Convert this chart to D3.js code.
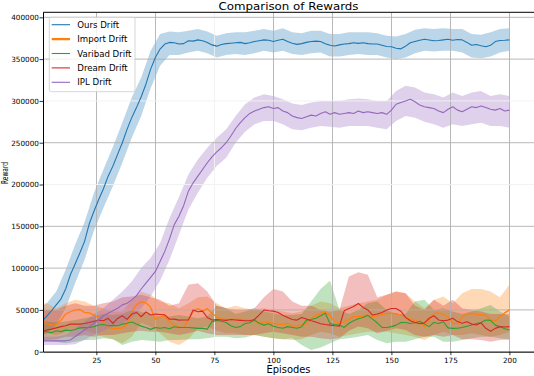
<!DOCTYPE html>
<html>
<head>
<meta charset="utf-8">
<script src="https://cdn.jsdelivr.net/npm/d3@7"></script>
<style>
    body { margin: 0; background: #fff; }
    text { font-family: "DejaVu Sans", sans-serif; }
</style>
</head>
<body>
<div id="chart-area"></div>
<script>

// ---- data ----
var seriesNames = ["Ours Drift", "Import Drift", "Varibad Drift", "Dream Drift", "IPL Drift"];
var xTicks = [25, 50, 75, 100, 125, 150, 175, 200];
var yTicks = [0, 50000, 100000, 150000, 200000, 250000, 300000, 350000, 400000];

// means, one point every 2 episodes (2, 4, ... 200)
var oursMean = [36500,42500,49000,56000,63000,75000,92000,105000,118000,132000,
    153000,168000,182000,195000,210000,222000,236000,250000,266000,280000,
    292000,305000,320000,338000,352000,362000,368000,370000,369500,368000,
    368500,372000,371500,373000,372000,370000,367000,365500,367500,368500,
    369000,369500,370000,368500,369500,371000,372000,373000,372500,371000,
    372500,373700,371000,369000,367600,368500,370000,371000,371500,371000,
    368500,366500,365600,367000,368000,368500,369500,368800,369500,368500,
    368000,368000,366500,365000,364700,363000,362300,365500,369500,371000,
    372500,373700,372800,372000,372300,373000,373700,372500,373500,373000,
    370000,366500,367500,366000,364700,366500,371000,372300,372500,373000];

var importMean = [38000,33500,31800,32500,37800,45000,47800,49800,50500,47000,
    46500,43800,41500,35000,29500,28000,27900,28500,33000,48000,
    56000,59700,58500,53000,38500,41500,43000,35800,31800,29500,
    29000,38000,48000,51500,48500,51500,46000,41500,39000,38700,
    38700,38500,38700,38500,37500,36500,34000,35500,35500,34000,
    33000,32500,34000,31000,31000,32500,34000,39000,43500,45900,
    47500,43000,35900,34000,36000,38500,41900,42000,42500,43900,
    42000,43000,44500,45900,45900,45500,43900,41000,39000,37500,
    34500,30000,37900,45500,46500,44500,41500,34000,34000,41500,
    45000,45900,44700,44200,43500,38000,36500,42000,46500,50000];

var varibadMean = [25500,23800,22700,25000,24000,25800,25200,26500,28500,28800,
    29000,30000,32000,32500,31000,31500,31000,33000,34000,35500,
    33000,30600,29000,26700,29000,28000,29000,27500,29800,29000,
    29000,29000,28500,27900,27900,27000,36000,37500,36500,35000,
    31000,29000,30000,33800,34600,37800,34000,31800,33500,30500,
    29000,28000,30000,29000,28000,29800,37800,38600,40000,43000,
    46000,33800,32500,31800,29000,34000,37000,39500,41000,43500,
    39000,34600,29000,29000,30000,31800,35000,35000,33800,34600,
    36500,33000,30000,35000,33800,35800,28500,27900,28000,29000,
    30500,32000,33800,35000,38000,37500,31800,30000,27500,25900];

var dreamMean = [24000,26000,27000,28500,30000,31000,33000,33000,33000,33800,
    35000,36500,37800,37000,40000,33800,39800,43000,38600,45000,
    47000,41800,47500,44000,45000,44500,44000,38800,39000,37800,
    38000,38000,50000,47800,48500,41000,38000,38600,38000,37500,
    38600,38000,37500,37000,37000,38500,44000,49800,49000,48500,
    47000,43500,41000,38500,37800,41000,39000,37000,35500,33500,
    32500,31800,31000,30600,49000,51700,54000,57700,53000,50000,
    43800,45000,47000,49900,51700,51700,48500,41000,37000,35000,
    33500,34500,40000,43000,38000,37000,37800,40000,36000,34000,
    35800,33000,32000,34600,28000,24500,27900,30000,29500,30000];

var iplMean = [13000,13000,13000,13000,13000,13000,14000,18000,22000,26000,
    30000,34000,38000,43000,46000,49000,52000,56000,58000,62000,
    67000,75000,82000,89000,96000,108000,120000,135000,152000,162000,
    175000,192000,202000,210000,218000,226000,233000,239000,244000,250000,
    258000,267000,274000,280000,285000,288000,290000,292000,293000,291000,
    292000,288000,286000,282000,280000,279000,281000,283000,282000,285000,
    287000,284000,286000,284000,285000,286000,285000,288000,286000,287000,
    286000,285000,286000,284000,289000,296000,298000,300000,302000,299000,
    295000,293000,292000,291000,288000,286000,290000,293000,289000,287000,
    290000,293000,292000,294000,292000,290000,289000,291000,288000,289000];

// shaded bands, one point every 4 episodes (0, 4, ... 200)
var oursLow = [15000,22000,32000,52000,82000,110000,145000,172000,198000,226000,256000,282000,315000,342000,355000,355000,358000,360000,357000,352000,355000,356000,355000,357000,360000,358000,360000,356000,355000,357000,358000,353000,353000,355000,356000,355000,355000,352000,350000,352000,357000,360000,359000,360000,360000,358000,352000,351000,353000,358000,360000];
var oursHigh = [50000,58000,72000,98000,128000,155000,190000,218000,245000,274000,304000,328000,360000,380000,383000,382000,384000,386000,383000,378000,381000,382000,382000,384000,386000,384000,387000,382000,381000,384000,384000,380000,380000,382000,382000,382000,381000,378000,377000,380000,385000,387000,386000,387000,386000,386000,380000,379000,382000,386000,387000];

var importLow = [22000,22000,20000,24000,28000,26000,22000,18000,15000,10000,18000,35000,30000,22000,12000,8000,15000,28000,30000,25000,22000,22000,20000,20000,18000,16000,15000,14000,15000,20000,24000,22000,18000,20000,22000,24000,24000,24000,22000,20000,18000,14000,20000,24000,20000,20000,22000,20000,18000,20000,24000];
var importHigh = [57000,58000,52000,58000,62000,60000,55000,52000,48000,48000,62000,72000,68000,60000,58000,52000,58000,65000,66000,58000,52000,55000,52000,50000,52000,50000,48000,46000,48000,55000,60000,58000,52000,55000,58000,60000,62000,68000,72000,70000,60000,52000,62000,66000,58000,70000,75000,75000,72000,65000,80000];

var varibadLow = [14000,13000,12000,10000,12000,14000,14000,16000,15000,8000,12000,14000,13000,12000,14000,14000,15000,15000,16000,18000,18000,16000,17000,20000,18000,16000,15000,16000,8000,2000,5000,10000,15000,16000,18000,20000,14000,10000,12000,12000,15000,18000,18000,12000,12000,14000,16000,18000,18000,16000,14000];
var varibadHigh = [38000,36000,35000,36000,38000,40000,42000,45000,44000,45000,50000,48000,44000,42000,42000,44000,42000,40000,42000,55000,52000,45000,48000,52000,48000,46000,44000,44000,45000,60000,75000,85000,50000,45000,50000,58000,60000,50000,45000,45000,60000,62000,50000,52000,48000,45000,48000,52000,56000,48000,42000];

var dreamLow = [12000,14000,15000,18000,18000,20000,18000,20000,20000,22000,24000,25000,24000,24000,22000,20000,22000,25000,22000,20000,20000,20000,20000,20000,22000,24000,22000,20000,18000,18000,16000,15000,16000,25000,30000,28000,22000,25000,28000,26000,20000,18000,20000,18000,20000,15000,15000,14000,12000,14000,15000];
var dreamHigh = [48000,50000,50000,55000,58000,55000,55000,58000,60000,65000,66000,68000,65000,62000,55000,58000,80000,82000,72000,55000,52000,50000,50000,52000,65000,75000,72000,60000,55000,55000,50000,48000,50000,90000,95000,92000,65000,68000,72000,70000,55000,50000,62000,55000,62000,52000,50000,48000,45000,45000,45000];

var iplLow = [8000,8000,8000,8000,9000,14000,20000,25000,30000,34000,40000,52000,66000,85000,110000,140000,170000,190000,208000,222000,232000,250000,263000,272000,276000,276000,272000,266000,265000,268000,270000,269000,268000,270000,270000,270000,268000,266000,276000,282000,280000,275000,272000,268000,272000,270000,272000,274000,270000,270000,268000];
var iplHigh = [18000,18000,18000,20000,28000,36000,45000,52000,62000,72000,84000,100000,112000,130000,160000,185000,212000,230000,244000,256000,266000,282000,296000,304000,308000,306000,302000,297000,295000,298000,300000,300000,300000,302000,303000,302000,300000,300000,312000,318000,316000,310000,308000,304000,310000,306000,310000,312000,306000,308000,306000];

var episodes = d3.range(2, 201, 2);
var bandEpisodes = d3.range(0, 201, 4);

var colors = ["#1f77b4", "#ff7f0e", "#2ca02c", "#d62728", "#9467bd"];
var lineWidths = [1.1, 1.3, 1.1, 1.1, 1.1];

var series = [
    { mean: oursMean, low: oursLow, high: oursHigh },
    { mean: importMean, low: importLow, high: importHigh },
    { mean: varibadMean, low: varibadLow, high: varibadHigh },
    { mean: dreamMean, low: dreamLow, high: dreamHigh },
    { mean: iplMean, low: iplLow, high: iplHigh }
];

// ---- layout ----
var margin = { left:43, top:12.3 };
var width = 493.1,      // runs a little past the right edge, like the reference
    height = 339.4;

var svg = d3.select("#chart-area")
    .append("svg")
        .attr("width", 534)
        .attr("height", 376)
        .style("display", "block");

var g = svg.append("g")
    .attr("transform", "translate(" + margin.left + ", " + margin.top + ")");

var x = d3.scaleLinear().domain([2.4, 211.3]).range([0, width]);
var y = d3.scaleLinear().domain([0, 406000]).range([height, 0]);

g.append("clipPath").attr("id", "plot-clip")
    .append("rect").attr("width", width).attr("height", height);

var plot = g.append("g").attr("clip-path", "url(#plot-clip)");

// Bands
var area = d3.area()
    .x(function(d){ return x(d.e); })
    .y0(function(d){ return y(d.lo); })
    .y1(function(d){ return y(d.hi); });

series.forEach(function(s, i){
    var pts = bandEpisodes.map(function(e, j){ return { e: e, lo: s.low[j], hi: s.high[j] }; });
    plot.append("path")
        .datum(pts)
        .attr("d", area)
        .attr("fill", colors[i])
        .attr("fill-opacity", 0.3);
});

// Grid (some lines came out washed-out in the reference raster)
var softX = [75], softY = [200000, 300000];
plot.selectAll(".vgrid").data(xTicks).enter().append("line")
    .attr("class", "vgrid")
    .attr("x1", function(d){ return Math.round(x(d)) + 0.5; })
    .attr("x2", function(d){ return Math.round(x(d)) + 0.5; })
    .attr("y1", 0).attr("y2", height)
    .attr("stroke", function(d){ return softX.indexOf(d) >= 0 ? "#f0f0f0" : "#b0b0b0"; })
    .attr("stroke-width", 0.9);

plot.selectAll(".hgrid").data(yTicks).enter().append("line")
    .attr("class", "hgrid")
    .attr("x1", 0).attr("x2", width)
    .attr("y1", function(d){ return y(d); })
    .attr("y2", function(d){ return y(d); })
    .attr("stroke", function(d){ return softY.indexOf(d) >= 0 ? "#f0f0f0" : "#b0b0b0"; })
    .attr("stroke-width", 0.9);

// Lines
var line = d3.line()
    .x(function(d){ return x(d.e); })
    .y(function(d){ return y(d.v); });

series.forEach(function(s, i){
    var pts = episodes.map(function(e, j){ return { e: e, v: s.mean[j] }; });
    plot.append("path")
        .datum(pts)
        .attr("d", line)
        .attr("fill", "none")
        .attr("stroke", colors[i])
        .attr("stroke-width", lineWidths[i])
        .attr("stroke-linejoin", "round");
});

// Axes
var xAxisCall = d3.axisBottom(x)
    .tickValues(xTicks)
    .tickSize(3.5)
    .tickSizeOuter(0)
    .tickPadding(2.4);

var yAxisCall = d3.axisLeft(y)
    .tickValues(yTicks)
    .tickFormat(d3.format("d"))
    .tickSize(3.5)
    .tickSizeOuter(0)
    .tickPadding(0.6);

var xAxisGroup = g.append("g")
    .attr("transform", "translate(0," + height + ")")
    .call(xAxisCall);

var yAxisGroup = g.append("g")
    .call(yAxisCall);

[xAxisGroup, yAxisGroup].forEach(function(ax){
    ax.select(".domain").attr("stroke", "#000").attr("stroke-width", 1);
    ax.selectAll(".tick line").attr("stroke", "#000").attr("stroke-width", 0.8);
    ax.selectAll(".tick text")
        .attr("fill", "#000")
        .style("font-family", "'DejaVu Sans', sans-serif")
        .style("font-size", "7.25px");
});

// top spine
g.append("line")
    .attr("x1", 0).attr("x2", width)
    .attr("y1", 0).attr("y2", 0)
    .attr("stroke", "#000").attr("stroke-width", 1);

// Title
svg.append("text")
    .attr("x", 288.5)
    .attr("y", 10.4)
    .attr("text-anchor", "middle")
    .attr("font-size", "11.2px")
    .attr("textLength", 140)
    .attr("lengthAdjust", "spacingAndGlyphs")
    .text("Comparison of Rewards");

// X Label
svg.append("text")
    .attr("x", 288.5)
    .attr("y", 373.4)
    .attr("text-anchor", "middle")
    .attr("font-size", "9.9px")
    .text("Episodes");

// Y Label
svg.append("text")
    .attr("transform", "translate(8.4,173) rotate(-90)")
    .attr("text-anchor", "middle")
    .attr("font-size", "8.6px")
    .attr("textLength", 22)
    .attr("lengthAdjust", "spacingAndGlyphs")
    .text("Reward");

// Legend
var legend = svg.append("g").attr("transform", "translate(49.3,17.3)");

legend.append("rect")
    .attr("width", 85.7)
    .attr("height", 74.4)
    .attr("rx", 2)
    .attr("fill", "#fff")
    .attr("fill-opacity", 0.8)
    .attr("stroke", "#cccccc")
    .attr("stroke-width", 0.8);

var rows = legend.selectAll(".row").data(seriesNames).enter().append("g")
    .attr("class", "row")
    .attr("transform", function(d, i){ return "translate(0," + (7.4 + i * 14.4) + ")"; });

rows.append("line")
    .attr("x1", 2.4).attr("x2", 20.7)
    .attr("stroke", function(d, i){ return colors[i]; })
    .attr("stroke-width", function(d, i){ return i === 1 ? 2.3 : 1.1; });

rows.append("text")
    .attr("x", 28)
    .attr("y", 3.1)
    .attr("font-size", "8.6px")
    .text(function(d){ return d; });

</script>
</body>
</html>
